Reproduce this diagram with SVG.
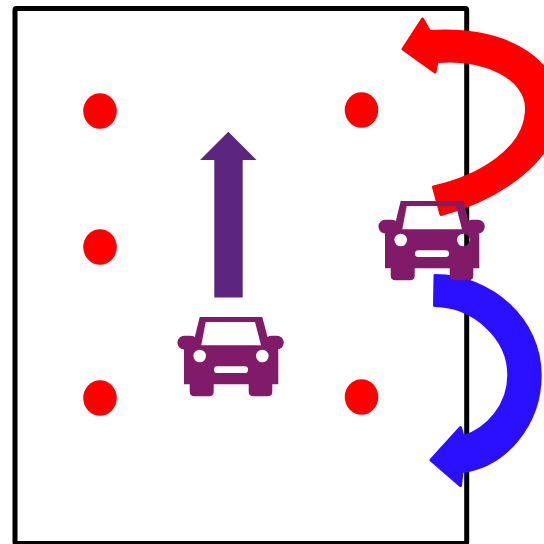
<svg xmlns="http://www.w3.org/2000/svg" width="544" height="544" viewBox="0 0 544 544">
<style>
.dot{fill:#ff0000}
.car{fill:#801a69;fill-rule:evenodd}
.curve{stroke-width:3;stroke-linejoin:round}
</style>
<defs>
<symbol id="car-shape" overflow="visible" viewBox="0 0 544 544" width="544" height="544">
<path class="car" d="M400.7 201H463.3L468.5 221Q470 219.8 473 219.8H478A6.8 6.8 0 0 1 478 233.4H479.3V268.3H473.3V275.5Q473.3 280.3 468.5 280.3H454.5Q449.7 280.3 449.7 275.5V268.3H414.7V275.5Q414.7 280.3 410 280.3H395.5Q390.7 280.3 390.7 275.5V268.3H385V233.4H385.2A6.8 6.8 0 0 1 385.2 219.8H391Q394 219.8 395.8 221ZM406.7 206 402.3 229.3H462L456 206ZM407 240A6.3 6.3 0 1 0 394.4 240A6.3 6.3 0 1 0 407 240ZM469.6 240A6.3 6.3 0 1 0 457 240A6.3 6.3 0 1 0 469.6 240ZM418.3 250.3A3.3 3.3 0 0 0 418.3 257H445.7A3.3 3.3 0 0 0 445.7 250.3Z"/>
</symbol>
</defs>
<g id="frame"><rect x="15" y="8.5" width="451.7" height="535" rx="1.5" fill="#fff" stroke="#000" stroke-width="5" stroke-linejoin="round"/></g>
<g id="dot-1"><ellipse class="dot" cx="100" cy="111" rx="16.8" ry="17.8"/></g>
<g id="dot-2"><ellipse class="dot" cx="361.5" cy="110" rx="16.8" ry="17.8"/></g>
<g id="dot-3"><ellipse class="dot" cx="100" cy="247" rx="16.8" ry="17.8"/></g>
<g id="dot-4"><ellipse class="dot" cx="100" cy="398" rx="16.8" ry="17.8"/></g>
<g id="dot-5"><ellipse class="dot" cx="361.5" cy="397" rx="16.8" ry="17.8"/></g>
<g id="connectors">
<path id="arrow-up" fill="#5b2580" d="M228.3 131.7 256.5 160H242.7V297.5H214.3V160H200Z"/>
<path id="arrow-red" class="curve" fill="#ff0000" stroke="#ff0000" d="M433.5 187C478 177 526.5 150 526.5 108C526.5 80 488 57 437 61.5L435 72 403 49 422.5 19 429.5 31.5C500 27 558 55 558 108C558 160 500 198 441 214.5Z"/>
<path id="arrow-blue" class="curve" fill="#2b0fff" stroke="#2b0fff" d="M435 275.5C492 276 540.2 320 540.2 375C540.2 425 505 466 462 471.5L460.5 485.5 431 460 460.5 427.5 463 437C488 429 508.8 405 508.8 375C508.8 338 474 306 434.5 305.5Z"/>
</g>
<g id="car-right"><use href="#car-shape"/></g>
<g id="car-left"><use href="#car-shape" x="-201" y="116"/></g>
</svg>
